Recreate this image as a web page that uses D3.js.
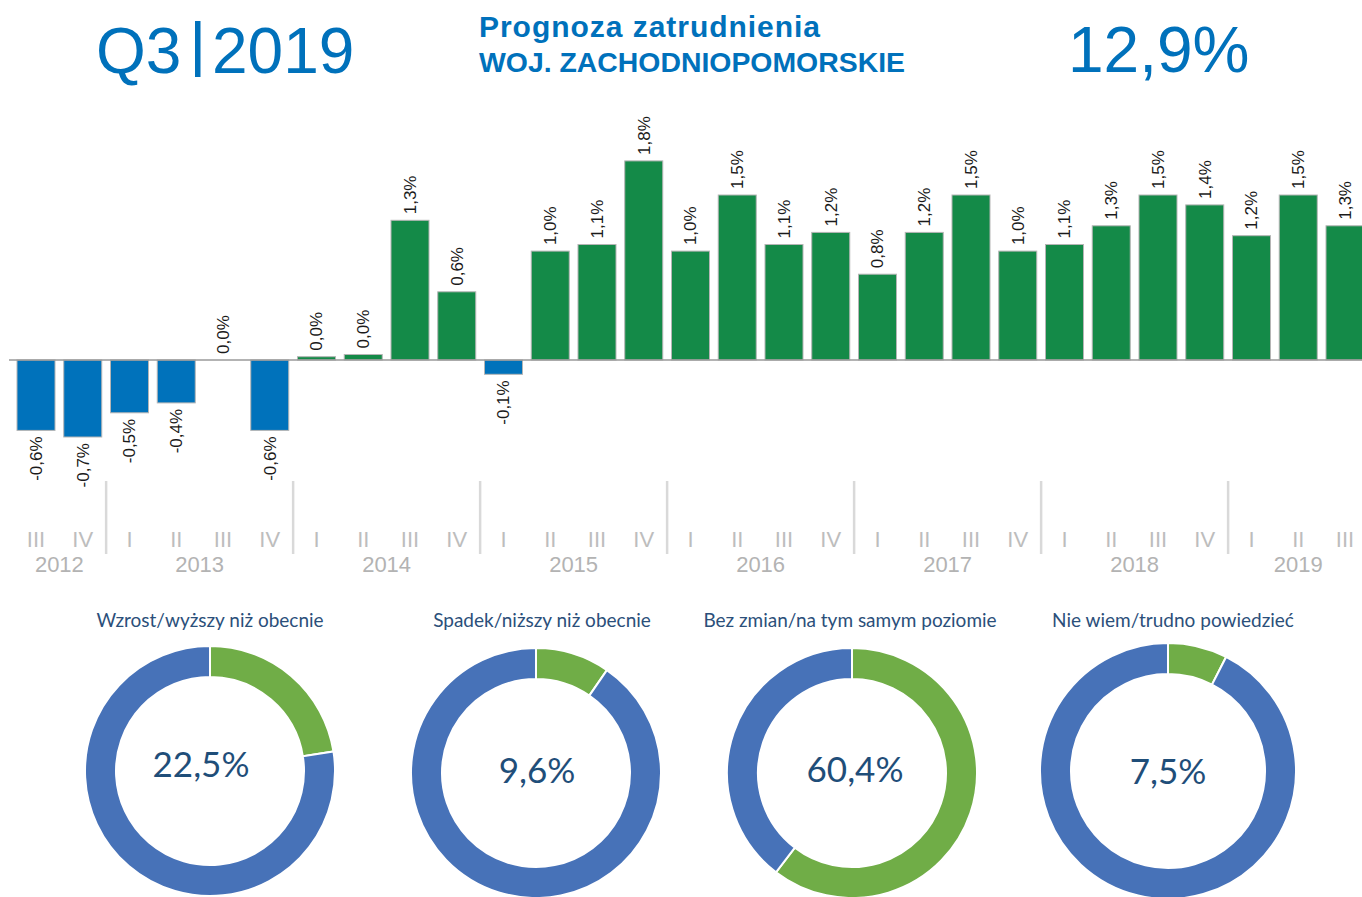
<!DOCTYPE html>
<html>
<head>
<meta charset="utf-8">
<script src="https://cdn.jsdelivr.net/npm/d3@7"></script>
<style>
  body { margin: 0; background: #fff; }
  svg { display: block; }
</style>
</head>
<body>
<svg id="chart" width="1362" height="897"></svg>
<script>
  // quarters shown on the bar chart
  var quarters = ['III','IV','I','II','III','IV','I','II','III','IV','I','II','III','IV',
                  'I','II','III','IV','I','II','III','IV','I','II','III','IV','I','II','III'];
  var years = ['2012','2012','2013','2013','2013','2013','2014','2014','2014','2014',
               '2015','2015','2015','2015','2016','2016','2016','2016','2017','2017','2017','2017',
               '2018','2018','2018','2018','2019','2019','2019'];
  // bar heights (%)
  var barValues = [-0.64,-0.70,-0.48,-0.39,0.00,-0.64,0.03,0.05,1.27,0.62,
                   -0.13,0.99,1.05,1.81,0.99,1.50,1.05,1.16,0.78,1.16,1.50,
                   0.99,1.05,1.22,1.50,1.41,1.13,1.50,1.22];
  // printed labels
  var barLabels = ['-0,6%','-0,7%','-0,5%','-0,4%','0,0%','-0,6%','0,0%','0,0%','1,3%','0,6%',
                   '-0,1%','1,0%','1,1%','1,8%','1,0%','1,5%','1,1%','1,2%','0,8%','1,2%','1,5%',
                   '1,0%','1,1%','1,3%','1,5%','1,4%','1,2%','1,5%','1,3%'];

  var donutTitles = ['Wzrost/wyższy niż obecnie','Spadek/niższy niż obecnie',
                     'Bez zmian/na tym samym poziomie','Nie wiem/trudno powiedzieć'];
  var donutValues = [22.5, 9.6, 60.4, 7.5];

  var headerQuarter = 'Q3';
  var headerYear = '2019';
  var headerTitle = ['Prognoza zatrudnienia','WOJ. ZACHODNIOPOMORSKIE'];
  var headerValue = '12,9%';

  var blue = '#0071bb';
  var svg = d3.select('#chart');

  // ---- header
  svg.append('text').attr('x',96).attr('y',73).text(headerQuarter)
     .style('font-family','Arial, "Liberation Sans"').style('font-size','64px').style('fill',blue);
  svg.append('rect').attr('x',195).attr('y',21).attr('width',5.5).attr('height',56).style('fill',blue);
  svg.append('text').attr('x',212).attr('y',73).text(headerYear)
     .style('font-family','Arial, "Liberation Sans"').style('font-size','64px').style('fill',blue);
  svg.append('text').attr('x',1068).attr('y',72).text(headerValue)
     .style('font-family','Arial, "Liberation Sans"').style('font-size','64px').style('fill',blue);
  svg.append('text').attr('x',479).attr('y',37).text(headerTitle[0])
     .attr('textLength',341).attr('lengthAdjust','spacing')
     .style('font-family','Arial, "Liberation Sans"').style('font-weight','bold')
     .style('font-size','30px').style('fill',blue);
  svg.append('text').attr('x',479).attr('y',72).text(headerTitle[1])
     .attr('textLength',426).attr('lengthAdjust','spacingAndGlyphs')
     .style('font-family','Arial, "Liberation Sans"').style('font-weight','bold')
     .style('font-size','28px').style('fill',blue);

  // ---- bar chart
  var idx = d3.range(barValues.length);
  var step = 46.75;
  var x = d3.scaleBand()
            .domain(idx)
            .range([17 - step*0.0936, 17 - step*0.0936 + step*idx.length])
            .paddingInner(0.187)
            .paddingOuter(0.0936);
  var y = d3.scaleLinear().domain([0, 1]).range([360, 250]);

  var g = svg.append('g');

  g.selectAll('rect.bar')
   .data(idx)
   .enter()
   .append('rect')
   .attr('class','bar')
   .attr('x', i => x(i))
   .attr('width', x.bandwidth())
   .attr('y', i => Math.min(y(barValues[i]), y(0)))
   .attr('height', i => Math.abs(y(barValues[i]) - y(0)))
   .style('fill', i => barValues[i] < 0 ? '#0072bb' : '#148a48')
   .style('stroke', '#b5b5b5')
   .style('stroke-width', 1);

  g.append('line')
   .attr('x1', 9).attr('x2', 1362)
   .attr('y1', y(0)).attr('y2', y(0))
   .style('stroke','#9a9a9a').style('stroke-width',1.5);

  // value labels, rotated
  g.selectAll('text.val')
   .data(idx)
   .enter()
   .append('text')
   .attr('class','val')
   .attr('transform', i => {
     var cx = x(i) + x.bandwidth()/2;
     var cy = barValues[i] < 0 ? y(barValues[i]) + 6 : y(barValues[i]) - 6;
     return 'translate('+cx+','+cy+') rotate(-90)';
   })
   .attr('dy','0.35em')
   .attr('text-anchor', i => barValues[i] < 0 ? 'end' : 'start')
   .text(i => barLabels[i])
   .style('font-family','Arial, "Liberation Sans"')
   .style('font-size','17px')
   .style('fill','#1a1a1a');

  // quarter labels
  g.selectAll('text.q')
   .data(idx)
   .enter()
   .append('text')
   .attr('class','q')
   .attr('x', i => x(i) + x.bandwidth()/2)
   .attr('y', 547)
   .attr('text-anchor','middle')
   .text(i => quarters[i])
   .style('font-family','Arial, "Liberation Sans"')
   .style('font-size','22px')
   .style('fill','#bdbdbd');

  // year groups
  var yearGroups = d3.groups(idx, i => years[i]);
  g.selectAll('text.yr')
   .data(yearGroups)
   .enter()
   .append('text')
   .attr('class','yr')
   .attr('x', d => (x(d[1][0]) + x(d[1][d[1].length-1]) + x.bandwidth())/2)
   .attr('y', 572)
   .attr('text-anchor','middle')
   .text(d => d[0])
   .style('font-family','Arial, "Liberation Sans"')
   .style('font-size','22px')
   .style('fill','#b3b3b3');

  // separators between years
  g.selectAll('line.sep')
   .data(yearGroups.slice(1))
   .enter()
   .append('line')
   .attr('class','sep')
   .attr('x1', d => x(d[1][0]) - (x.step() - x.bandwidth())/2)
   .attr('x2', d => x(d[1][0]) - (x.step() - x.bandwidth())/2)
   .attr('y1', 481).attr('y2', 554)
   .style('stroke','#d9d9d9').style('stroke-width',2.5);

  // ---- donuts
  var donutLayout = [
    { cx: 210, cy: 771, r: 125, titleX: 210, labelX: 201, labelY: 777 },
    { cx: 536, cy: 773, r: 125, titleX: 542, labelX: 537, labelY: 783 },
    { cx: 852, cy: 773, r: 125, titleX: 850, labelX: 855, labelY: 782 },
    { cx: 1168, cy: 771, r: 128, titleX: 1173, labelX: 1168, labelY: 784 }
  ];

  var pie = d3.pie().sort(null).value(d => d);

  donutValues.forEach(function(v, k) {
    var L = donutLayout[k];
    var arc = d3.arc().innerRadius(L.r - 31).outerRadius(L.r);
    var dg = svg.append('g').attr('transform','translate('+L.cx+','+L.cy+')');
    dg.selectAll('path')
      .data(pie([v, 100 - v]))
      .enter()
      .append('path')
      .attr('d', arc)
      .style('fill', (d, j) => j === 0 ? '#70ad47' : '#4772b8')
      .style('stroke','#fff')
      .style('stroke-width',2);

    svg.append('text')
       .attr('x', L.labelX).attr('y', L.labelY)
       .attr('text-anchor','middle')
       .text(d3.format('.1f')(v).replace('.', ',') + '%')
       .style('font-family','Lato, "Open Sans", sans-serif')
       .style('font-size','35px')
       .style('fill','#1f4e79');

    svg.append('text')
       .attr('x', L.titleX).attr('y', 627)
       .attr('text-anchor','middle')
       .text(donutTitles[k])
       .style('font-family','Lato, "Open Sans", sans-serif')
       .style('font-size','19px')
       .style('fill','#2b4f7a');
  });
</script>
</body>
</html>
